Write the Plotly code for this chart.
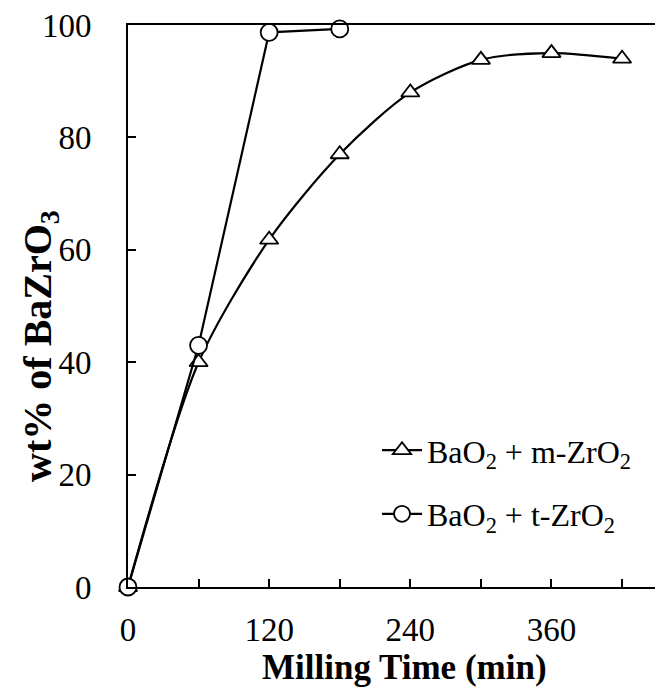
import plotly.graph_objects as go

time_m = [0, 60, 120, 180, 240, 300, 360, 420]
wt_m = [0, 40, 61.8, 77, 88, 93.8, 95, 94]
time_t = [0, 60, 120, 180]
wt_t = [0, 43, 98.7, 99.3]

name_m = "BaO<sub>2</sub> + m-ZrO<sub>2</sub>"
name_t = "BaO<sub>2</sub> + t-ZrO<sub>2</sub>"

FONT = "Liberation Serif, Times New Roman, serif"

fig = go.Figure()
fig.add_trace(go.Scatter(
    x=time_m, y=wt_m, name=name_m, mode="lines+markers",
    line=dict(color="black", width=2.2, shape="spline", smoothing=0.8),
    marker=dict(symbol="triangle-up", size=16, color="white",
                line=dict(color="black", width=1.8)),
    legendgroup="a", cliponaxis=False,
))
fig.add_trace(go.Scatter(
    x=time_t, y=wt_t, name=name_t, mode="lines+markers",
    line=dict(color="black", width=2.2),
    marker=dict(symbol="circle", size=17, color="white",
                line=dict(color="black", width=1.8)),
    legendgroup="b", cliponaxis=False,
))

fig.update_layout(
    width=655, height=690,
    margin=dict(l=128, r=0, t=25, b=103),
    plot_bgcolor="white", paper_bgcolor="white",
    font=dict(family=FONT, size=33, color="black"),
    showlegend=True,
    legend=dict(x=0.4725, y=0.292, xanchor="left", yanchor="top",
                bgcolor="rgba(0,0,0,0)", font=dict(size=32),
                tracegroupgap=19, itemwidth=40),
    xaxis=dict(range=[0, 448], tickvals=[0, 120, 240, 360],
               ticks="inside", ticklen=8, tickwidth=2, tickcolor="black",
               minor=dict(tickvals=[60, 180, 300, 420], ticks="inside",
                          ticklen=8, tickwidth=2, tickcolor="black"),
               showline=True, linecolor="black", linewidth=2, mirror=True,
               showgrid=False, zeroline=False,
               ticklabelstandoff=12),
    yaxis=dict(range=[0, 100], tickvals=[0, 20, 40, 60, 80, 100],
               ticks="inside", ticklen=8, tickwidth=2, tickcolor="black",
               showline=True, linecolor="black", linewidth=2,
               showgrid=False, zeroline=False,
               ticklabelstandoff=28),
)

fig.add_annotation(
    text="<b>wt% of BaZrO<sub>3</sub></b>", textangle=-90,
    xref="paper", yref="paper", x=-0.167, y=0.429,
    xanchor="center", yanchor="middle", showarrow=False,
    font=dict(size=40, family=FONT),
)
fig.add_annotation(
    text="<b>Milling Time (min)</b>",
    xref="paper", yref="paper", x=0.5256, y=-0.144,
    xanchor="center", yanchor="middle", showarrow=False,
    font=dict(size=35, family=FONT),
)

fig.write_html("out.html")
